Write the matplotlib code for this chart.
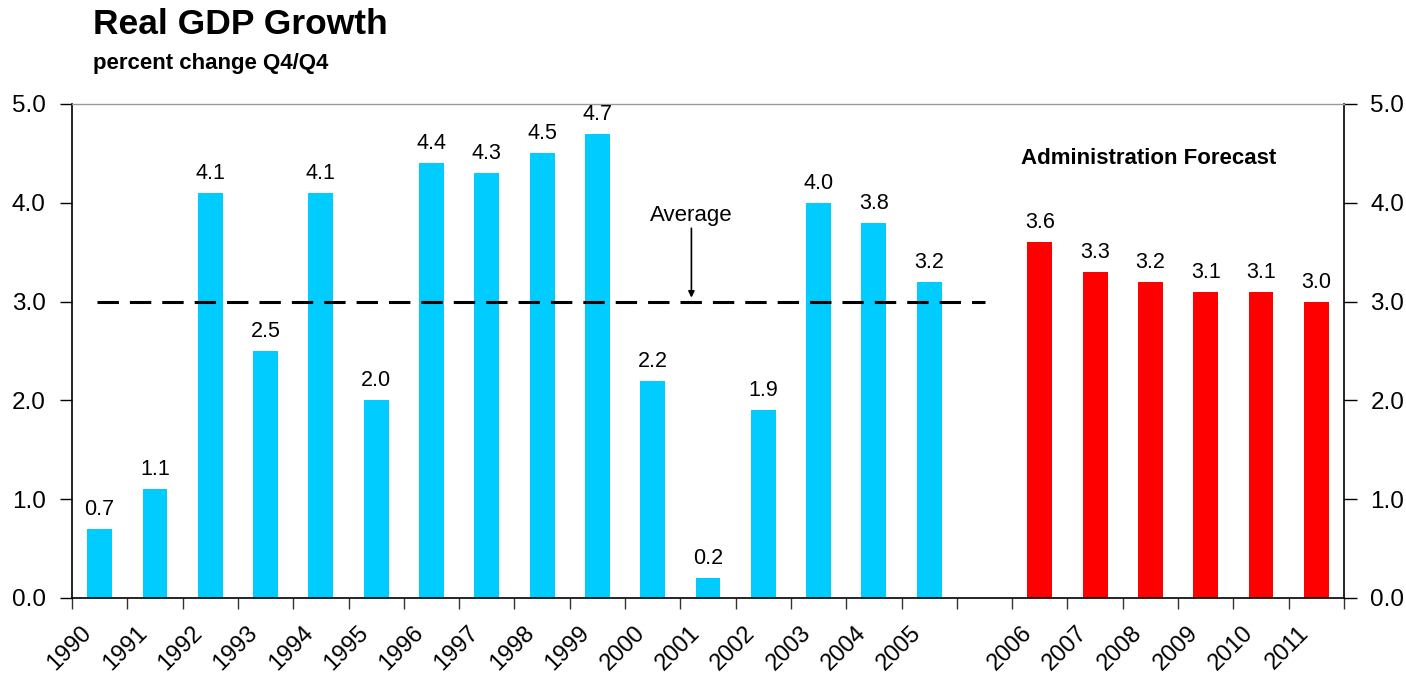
import matplotlib
matplotlib.use("Agg")
import matplotlib.pyplot as plt
import matplotlib.transforms as mtransforms
import numpy as np

plt.rcParams['font.family'] = ['Liberation Sans', 'DejaVu Sans']

# Historical data (1990-2005) and Administration forecast (2006-2011)
hist_years = ['1990', '1991', '1992', '1993', '1994', '1995', '1996', '1997',
              '1998', '1999', '2000', '2001', '2002', '2003', '2004', '2005']
hist_growth = [0.7, 1.1, 4.1, 2.5, 4.1, 2.0, 4.4, 4.3,
               4.5, 4.7, 2.2, 0.2, 1.9, 4.0, 3.8, 3.2]
fcst_years = ['2006', '2007', '2008', '2009', '2010', '2011']
fcst_growth = [3.6, 3.3, 3.2, 3.1, 3.1, 3.0]
average_growth = 3.0
y_ticks = [0.0, 1.0, 2.0, 3.0, 4.0, 5.0]

BLUE = '#00CCFF'
RED = '#FF0000'

fig = plt.figure(figsize=(14.06, 6.78), dpi=100)
ax = fig.add_axes([72 / 1406, 1 - 598 / 678, (1344 - 72) / 1406, (598 - 104) / 678])

# category slots: one empty slot separates history from forecast
hist_x = np.arange(len(hist_years)) + 0.5
fcst_x = np.arange(len(fcst_years)) + len(hist_years) + 1.5
n_slots = len(hist_years) + 1 + len(fcst_years)

bw = 0.45
ax.bar(hist_x, hist_growth, width=bw, color=BLUE, zorder=2)
ax.bar(fcst_x, fcst_growth, width=bw, color=RED, zorder=2)

label_off = mtransforms.offset_copy(ax.transData, fig=fig, x=0, y=6.5, units='points')
for x, v in list(zip(hist_x, hist_growth)) + list(zip(fcst_x, fcst_growth)):
    ax.text(x, v, f"{v:.1f}", ha='center', va='bottom', fontsize=15.5,
            transform=label_off, zorder=3)

# average line across the historical period
ax.plot([0.45, 16.5], [average_growth, average_growth], color='black', lw=2.2,
        dashes=(7, 3.6), zorder=4)
ax.annotate('Average', xy=(11.2, 3.04), xytext=(11.2, 3.77),
            ha='center', va='bottom', fontsize=16,
            arrowprops=dict(arrowstyle='-|>', color='black', lw=1.2,
                            mutation_scale=9, shrinkA=0, shrinkB=0))

ax.text(19.46, 4.45, 'Administration Forecast', ha='center', va='center',
        fontsize=16, fontweight='bold')

ax.set_xlim(0, n_slots)
ax.set_ylim(0, 5)

# y axes on both sides
ax.set_yticks(y_ticks)
ax.set_yticklabels([f"{t:.1f}" for t in y_ticks])
ax.tick_params(axis='y', which='major', labelsize=17.5, length=9, width=1.0,
               direction='out', left=True, right=True, labelleft=True,
               labelright=True, pad=10)

# category boundaries as ticks, year labels at category centres
ax.set_xticks(np.arange(n_slots + 1), minor=True)
ax.set_xticks(np.concatenate([hist_x, fcst_x]))
ax.set_xticklabels(hist_years + fcst_years, rotation=45, ha='right',
                   va='top', rotation_mode='anchor')
ax.tick_params(axis='x', which='major', length=0, labelsize=17, pad=17)
ax.tick_params(axis='x', which='minor', length=8, width=1.0, color='#333333')
for lbl in ax.get_xticklabels():
    lbl.set_transform(lbl.get_transform() +
                      mtransforms.ScaledTranslation(-19 / 100, 0, fig.dpi_scale_trans))

for side in ('left', 'right', 'bottom'):
    ax.spines[side].set_color('black')
    ax.spines[side].set_linewidth(1.2)
ax.spines['top'].set_color('#999999')
ax.spines['top'].set_linewidth(1.0)

fig.text(93 / 1406, 1 - 24 / 678, 'Real GDP Growth', fontsize=25.5,
         fontweight='bold', ha='left', va='center')
fig.text(93 / 1406, 1 - 63 / 678, 'percent change Q4/Q4', fontsize=16,
         fontweight='bold', ha='left', va='center')

fig.savefig('out.png', dpi=100, facecolor='white')
